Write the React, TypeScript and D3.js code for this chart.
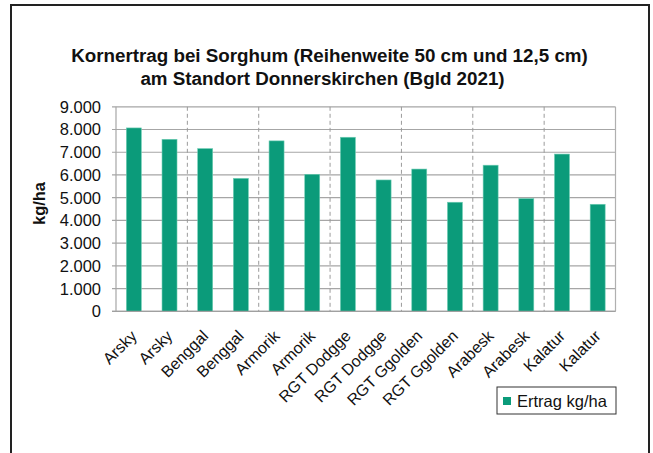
import React from "react";
import * as d3 from "d3";

const categories = [
  "Arsky", "Arsky", "Benggal", "Benggal", "Armorik", "Armorik",
  "RGT Dodgge", "RGT Dodgge", "RGT Ggolden", "RGT Ggolden",
  "Arabesk", "Arabesk", "Kalatur", "Kalatur",
];
const values = [8070, 7570, 7160, 5850, 7500, 6030, 7660, 5780, 6260, 4800, 6430, 4960, 6920, 4710];
const yTicks = [0, 1000, 2000, 3000, 4000, 5000, 6000, 7000, 8000, 9000];
const seriesName = "Ertrag kg/ha";
const titleLines = [
  "Kornertrag bei Sorghum (Reihenweite 50 cm und 12,5 cm)",
  "am Standort Donnerskirchen (Bgld 2021)",
];

const W = 653;
const H = 453;
const FONT = "'Liberation Sans', Arial, Helvetica, sans-serif";
const GREEN = "#0b9b7a";

export default function App() {
  const left = 116;
  const right = 615.5;
  const top = 106.8;
  const bottom = 311.3;

  const x = d3.scaleBand<number>().domain(categories.map((_, i) => i)).range([left, right]).padding(0);
  const y = d3.scaleLinear().domain([0, 9000]).range([bottom, top]);
  const bw = x.bandwidth() * 0.42;
  const fmt = (v: number) => d3.format(",")(v).replace(/,/g, ".");

  const groupLines = d3.range(2, categories.length, 2).map((i) => x(i)!);
  const titleX = [329.5, 322.5];

  return (
    <svg width={W} height={H} style={{ position: "fixed", left: 0, top: 0, background: "#fff" }} fontFamily={FONT}>
      <rect x={0} y={0} width={W} height={H} fill="#fff" />
      <rect x={11} y={5} width={638} height={460} fill="none" stroke="#222" strokeWidth={2} />
      {titleLines.map((t, i) => (
        <text key={i} x={titleX[i]} y={62 + i * 23} textAnchor="middle" fontSize={18.8} fontWeight="bold" fill="#111">
          {t}
        </text>
      ))}
      {yTicks.map((t) => (
        <g key={t}>
          <line x1={left - 4} x2={right} y1={y(t)} y2={y(t)} stroke="#a6a6a6" strokeWidth={1.2} />
          <text x={101} y={y(t)} dy="0.36em" textAnchor="end" fontSize={16.5} fill="#111">
            {fmt(t)}
          </text>
        </g>
      ))}
      {groupLines.map((gx, i) => (
        <line key={i} x1={gx} x2={gx} y1={top} y2={bottom} stroke="#9a9a9a" strokeWidth={1} strokeDasharray="4,3" />
      ))}
      <line x1={left} x2={left} y1={top} y2={bottom} stroke="#a6a6a6" strokeWidth={1.2} />
      <line x1={right} x2={right} y1={top} y2={bottom} stroke="#b0b0b0" strokeWidth={1.2} />
      {values.map((v, i) => {
        const cx = x(i)! + x.bandwidth() / 2;
        return (
          <rect key={i} x={cx - bw / 2} y={y(v)} width={bw} height={y(0) - y(v)} fill={GREEN} stroke="#6fcdb4" strokeWidth={0.6} />
        );
      })}
      <line x1={left - 4} x2={right} y1={bottom} y2={bottom} stroke="#a0a0a0" strokeWidth={1.2} />
      {categories.map((c, i) => {
        const cx = x(i)! + x.bandwidth() / 2 + 4;
        const ly = 337;
        return (
          <text key={i} x={cx} y={ly} textAnchor="end" fontSize={16} fill="#111" transform={`rotate(-45 ${cx} ${ly})`}>
            {c}
          </text>
        );
      })}
      <text x={0} y={0} transform={`translate(45 203.5) rotate(-90)`} textAnchor="middle" fontSize={16.5} fontWeight="bold" fill="#111">
        kg/ha
      </text>
      <rect x={497} y={387} width={119} height={27} fill="#fff" stroke="#333" strokeWidth={1} />
      <rect x={503} y={397} width={8} height={8} fill={GREEN} />
      <text x={517} y={406.5} fontSize={16.5} fill="#111">
        {seriesName}
      </text>
    </svg>
  );
}
